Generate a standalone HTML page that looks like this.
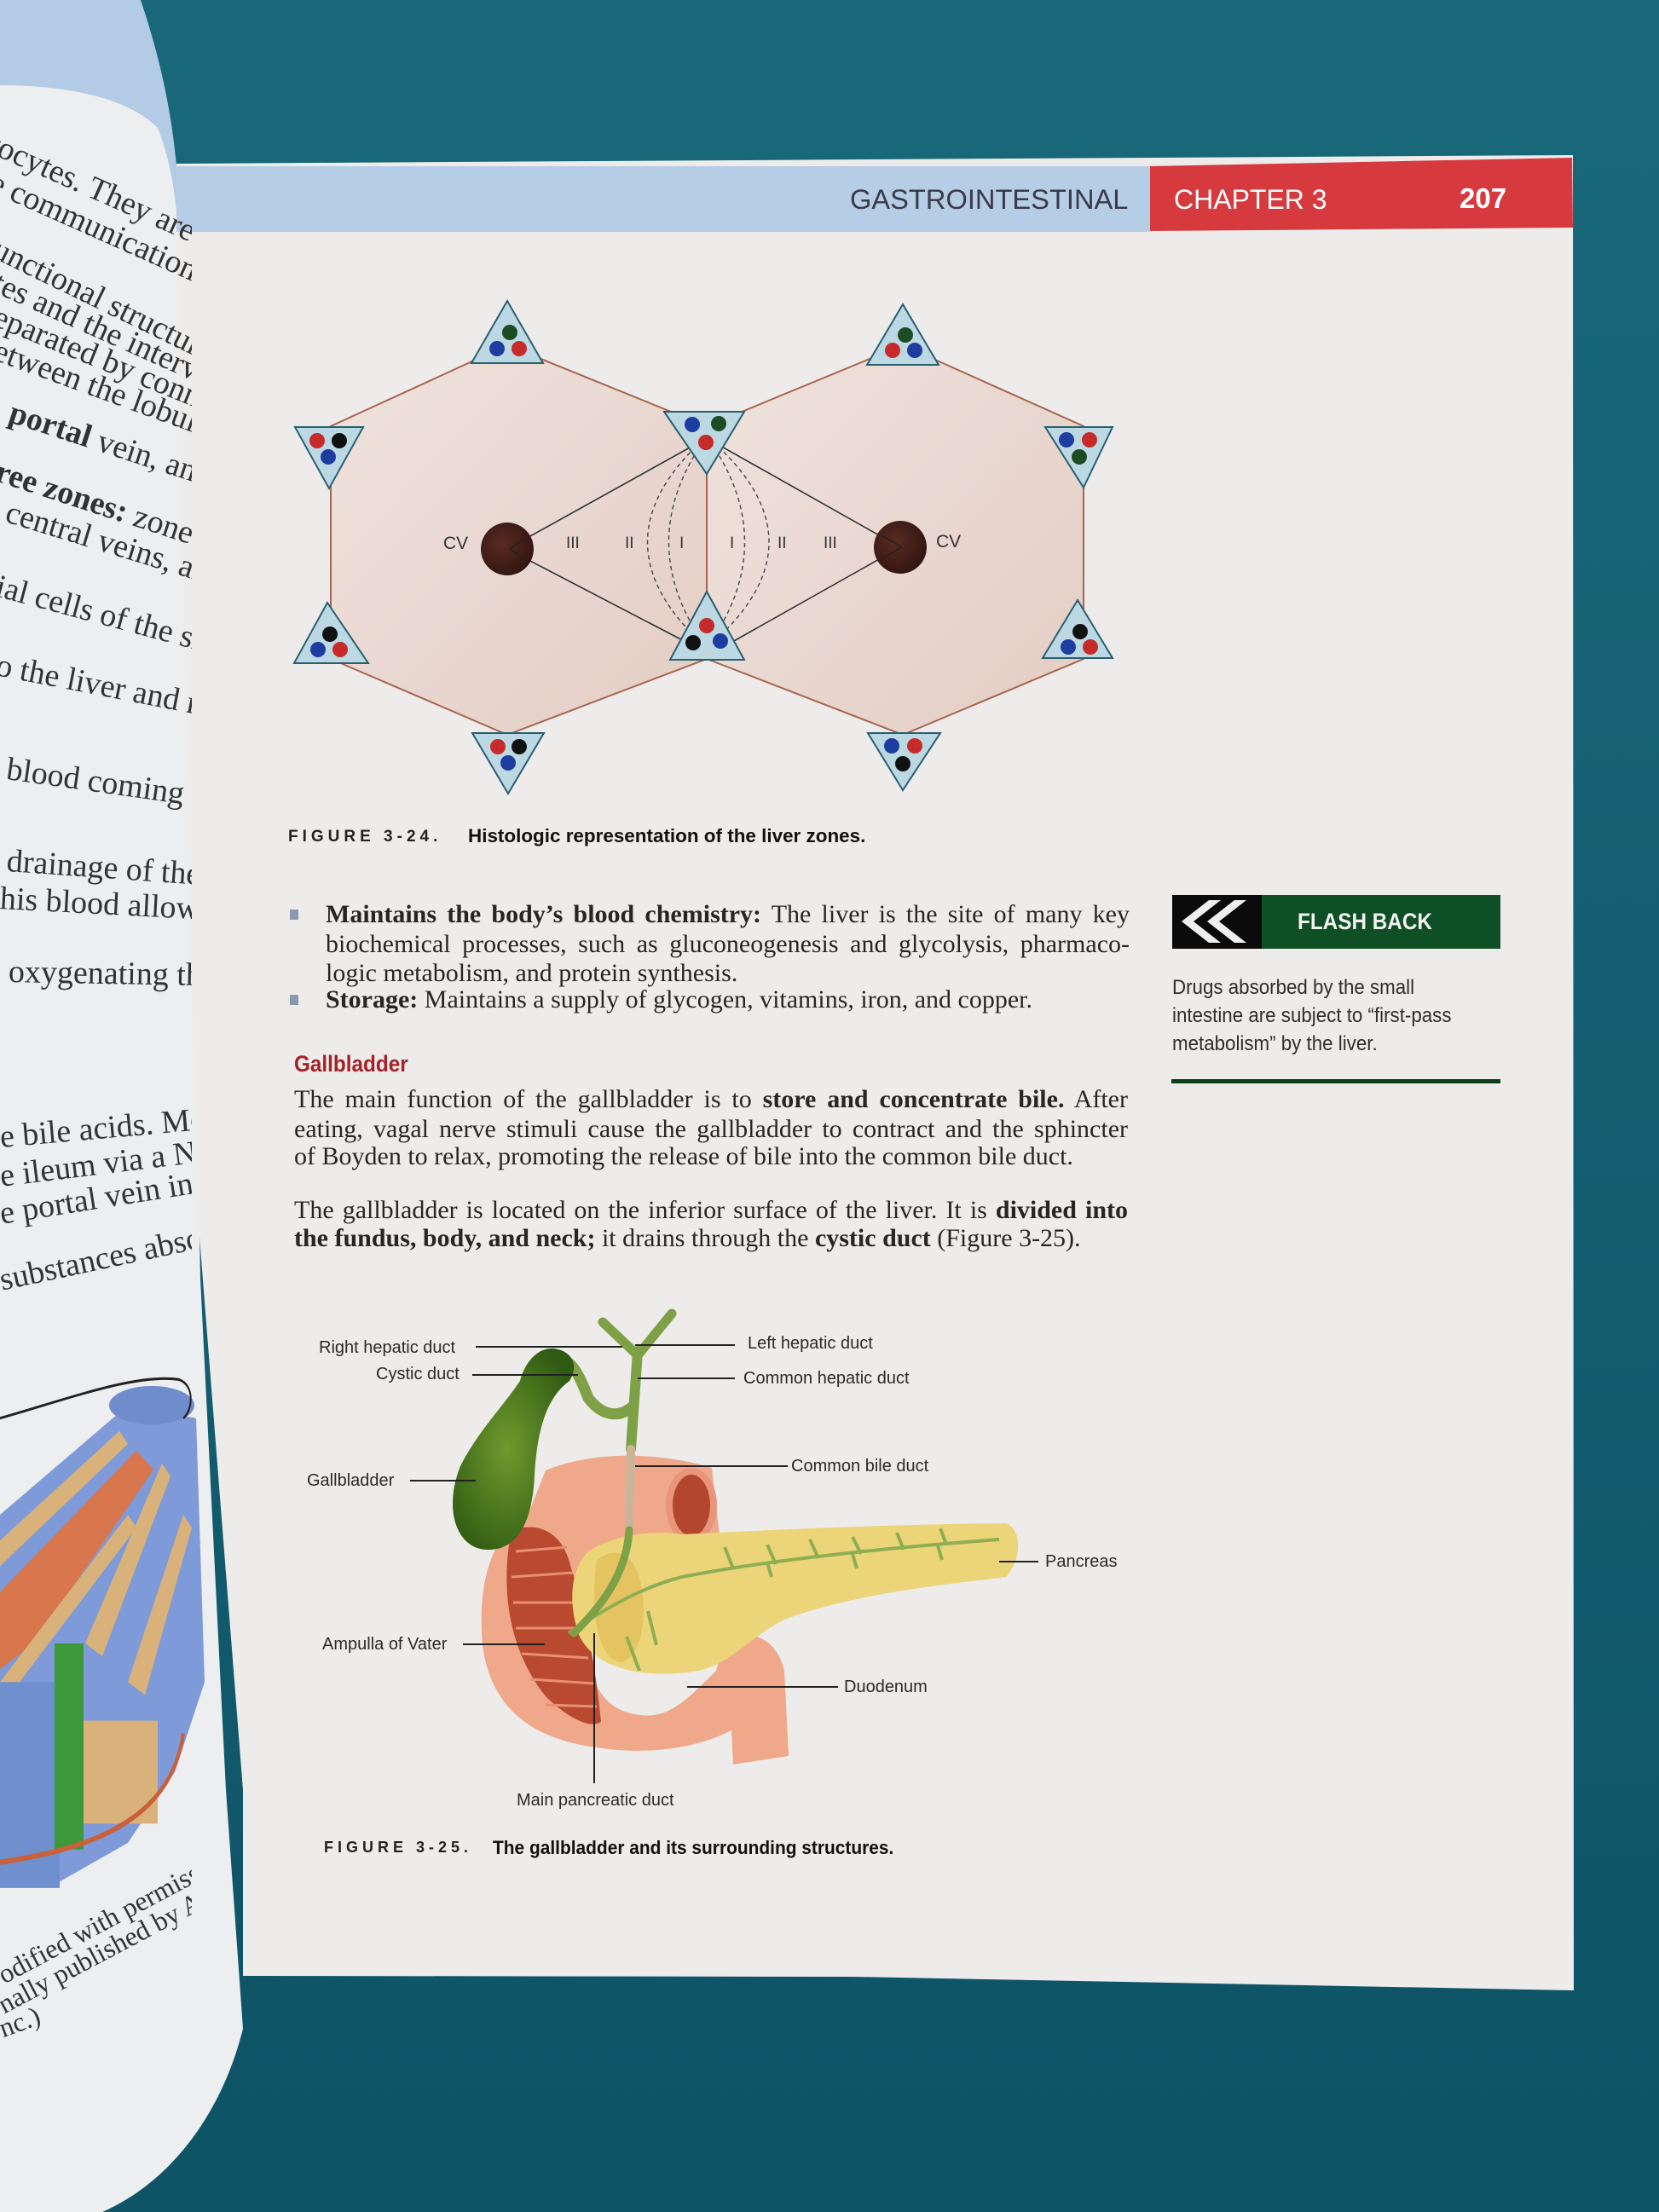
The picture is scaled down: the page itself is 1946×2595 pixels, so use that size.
<!DOCTYPE html>
<html><head><meta charset="utf-8">
<style>
html,body{margin:0;padding:0;}
body{width:1946px;height:2595px;position:relative;overflow:hidden;background:#125a6c;font-family:"Liberation Sans",sans-serif;}
.a{position:absolute;white-space:nowrap;}
.ln{position:absolute;height:34px;line-height:34px;font-size:30px;font-family:"Liberation Serif",serif;color:#262626;text-align:justify;text-align-last:justify;white-space:nowrap;}
.lab{position:absolute;font-size:20px;line-height:22px;color:#2a2a2a;white-space:nowrap;}
.lp{position:absolute;font-family:"Liberation Serif",serif;font-size:38px;color:#333;white-space:nowrap;transform-origin:0 50%;}
</style></head><body>
<svg width="1946" height="2595" style="position:absolute;left:0;top:0">
<defs>
<linearGradient id="bg" x1="0" y1="0" x2="0" y2="1"><stop offset="0" stop-color="#19697a"/><stop offset="1" stop-color="#0e5366"/></linearGradient>
<linearGradient id="hexg" x1="0" y1="0" x2="1" y2="1"><stop offset="0" stop-color="#efe3dd"/><stop offset="1" stop-color="#e3cdc4"/></linearGradient>
<radialGradient id="cvg" cx="0.4" cy="0.4" r="0.7"><stop offset="0" stop-color="#5a2a22"/><stop offset="1" stop-color="#2e1410"/></radialGradient>
<radialGradient id="gb" cx="0.45" cy="0.5" r="0.6"><stop offset="0" stop-color="#6f9a2e"/><stop offset="1" stop-color="#2f5a12"/></radialGradient>
</defs>
<rect width="1946" height="2595" fill="url(#bg)"/>
<!-- left page -->
<path d="M0,0 L165,0 C185,60 200,120 207,195 L207,300 L0,300 Z" fill="#b3cbe5"/>
<path d="M0,100 C80,100 150,115 185,150 C205,200 210,260 212,330 L225,900 L235,1500 L265,2100 L285,2380 C260,2480 200,2560 120,2595 L0,2595 Z" fill="#eceef0"/>
<!-- right page -->
<path d="M207,192 L1845,182 L1846,2335 L1000,2319 L285,2318 L285,2100 L230,1400 L215,700 L207,300 Z" fill="#edecea"/>
<rect x="207" y="195" width="1142" height="77" fill="#b6cde6"/>
<path d="M1349,195 L1844,185 L1845,267 L1349,271 Z" fill="#d63a3f"/>
<!-- left illustration -->
<g transform="translate(0,1626) scale(1,1.51) translate(0,-1600)">
<path d="M0,1700 L150,1615 L230,1625 L240,1830 L205,1900 L150,1955 L70,1985 L0,1985 Z" fill="#7f9ad8"/>
<path d="M0,1760 L160,1650 L180,1665 L40,1800 L0,1820 Z" fill="#d8764e"/>
<path d="M0,1720 L140,1635 L150,1645 L0,1740 Z M0,1830 L150,1700 L160,1710 L0,1850 Z M100,1800 L190,1660 L200,1670 L120,1810 Z M150,1830 L215,1700 L225,1710 L170,1840 Z" fill="#d8b27a"/>
<rect x="95" y="1860" width="90" height="80" fill="#d8b27a"/>
<rect x="0" y="1830" width="70" height="160" fill="#6f8fcf"/>
<rect x="64" y="1800" width="34" height="160" fill="#3c9a3a"/>
<ellipse cx="178" cy="1615" rx="50" ry="15" fill="#6f8ccc"/>
<path d="M0,1970 C100,1960 200,1940 215,1870" stroke="#c9603a" stroke-width="4" fill="none"/>
<path d="M0,1625 C80,1610 160,1590 210,1595 C230,1600 225,1620 215,1625" stroke="#222" stroke-width="2" fill="none"/>
</g>

<!-- hexagons -->
<g stroke="#a8654f" stroke-width="2" fill="url(#hexg)">
<polygon points="595,405 829,500 829,773 595,862 388,773 388,500"/>
<polygon points="1059,405 1271,500 1271,773 1059,862 829,773 829,500"/>
</g>
<line x1="829" y1="500" x2="829" y2="773" stroke="#a8654f" stroke-width="2"/>
<g stroke="#333" stroke-width="1.6" fill="none">
<line x1="595" y1="644" x2="829" y2="514"/>
<line x1="595" y1="644" x2="812" y2="757"/>
<line x1="1056" y1="642" x2="829" y2="514"/>
<line x1="1056" y1="642" x2="852" y2="757"/>
</g>
<g stroke="#444" stroke-width="1.4" fill="none" stroke-dasharray="5,4">
<path d="M829,512 Q690,636 829,760"/>
<path d="M829,512 Q740,636 829,760"/>
<path d="M829,512 Q918,636 829,760"/>
<path d="M829,512 Q975,636 829,760"/>
</g>
<circle cx="595" cy="644" r="31" fill="url(#cvg)"/>
<circle cx="1056" cy="642" r="31" fill="url(#cvg)"/>
<g stroke="#222" stroke-width="1.5" fill="none">
<path d="M618,630 L598,644 L618,658"/><path d="M1034,628 L1058,642 L1034,656"/>
</g>
<g stroke="#2a5f70" stroke-width="2" fill="#bcd8e3">
<polygon points="595,353 553,426 637,426"/>
<polygon points="1059,357 1017,428 1101,428"/>
<polygon points="384,707 345,778 432,778"/>
<polygon points="829,694 786,774 873,774"/>
<polygon points="1264,704 1223,772 1305,772"/>
<polygon points="346,501 426,501 386,573"/>
<polygon points="779,483 873,483 829,556"/>
<polygon points="1226,501 1305,501 1271,572"/>
<polygon points="554,860 638,860 596,931"/>
<polygon points="1018,860 1103,860 1059,927"/>
</g>
<g>
<circle cx="598" cy="390" r="9" fill="#1c4d22"/><circle cx="583" cy="409" r="9" fill="#1d3ea0"/><circle cx="609" cy="409" r="9" fill="#c62a2a"/>
<circle cx="1062" cy="393" r="9" fill="#1c4d22"/><circle cx="1047" cy="411" r="9" fill="#c62a2a"/><circle cx="1073" cy="411" r="9" fill="#1d3ea0"/>
<circle cx="387" cy="744" r="9" fill="#111"/><circle cx="373" cy="762" r="9" fill="#1d3ea0"/><circle cx="399" cy="762" r="9" fill="#c62a2a"/>
<circle cx="829" cy="734" r="9" fill="#c62a2a"/><circle cx="813" cy="754" r="9" fill="#111"/><circle cx="845" cy="752" r="9" fill="#1d3ea0"/>
<circle cx="1267" cy="741" r="9" fill="#111"/><circle cx="1253" cy="759" r="9" fill="#1d3ea0"/><circle cx="1279" cy="759" r="9" fill="#c62a2a"/>
<circle cx="372" cy="517" r="9" fill="#c62a2a"/><circle cx="398" cy="517" r="9" fill="#111"/><circle cx="385" cy="536" r="9" fill="#1d3ea0"/>
<circle cx="812" cy="498" r="9" fill="#1d3ea0"/><circle cx="843" cy="497" r="9" fill="#1c4d22"/><circle cx="828" cy="519" r="9" fill="#c62a2a"/>
<circle cx="1251" cy="516" r="9" fill="#1d3ea0"/><circle cx="1278" cy="516" r="9" fill="#c62a2a"/><circle cx="1266" cy="536" r="9" fill="#1c4d22"/>
<circle cx="584" cy="876" r="9" fill="#c62a2a"/><circle cx="609" cy="876" r="9" fill="#111"/><circle cx="596" cy="895" r="9" fill="#1d3ea0"/>
<circle cx="1046" cy="875" r="9" fill="#1d3ea0"/><circle cx="1073" cy="875" r="9" fill="#c62a2a"/><circle cx="1059" cy="896" r="9" fill="#111"/>
</g>

<!-- flash back box -->
<rect x="1375" y="1050" width="385" height="63" fill="#0e4f26"/>
<rect x="1375" y="1050" width="105" height="63" fill="#0b0b0b"/>
<path d="M1440,1050 L1480,1050 L1435,1081 L1480,1113 L1440,1113 L1395,1081 Z" fill="#0b0b0b"/>
<path d="M1418,1056 L1432,1056 L1400,1081 L1432,1106 L1418,1106 L1386,1081 Z M1448,1056 L1462,1056 L1430,1081 L1462,1106 L1448,1106 L1416,1081 Z" fill="#eee"/>
<rect x="1374" y="1266" width="386" height="5" fill="#0e3d1e"/>

<!-- gallbladder figure -->
<path d="M640,1725 C700,1700 780,1705 835,1722 L845,1810 C810,1820 780,1800 760,1810 C720,1820 700,1850 690,1900 C685,1960 700,2000 740,2010 C780,2020 800,2000 840,1960 L850,1925 C880,1910 910,1920 920,1960 L925,2060 L860,2070 L858,2030 C820,2050 760,2060 700,2050 C620,2040 575,2000 566,1930 C560,1860 575,1800 620,1775 Z" fill="#f0a88a"/>
<path d="M600,1795 C630,1785 660,1795 670,1840 C690,1900 700,1970 705,2020 C690,2030 660,2010 640,1990 C600,1940 585,1870 600,1795 Z" fill="#b94a30"/>
<g stroke="#e89070" stroke-width="3"><path d="M605,1820 L665,1815 M600,1850 L672,1845 M602,1880 L680,1880 M605,1910 L685,1910 M612,1940 L690,1945 M622,1970 L697,1975 M640,2000 L700,2002"/></g>
<ellipse cx="811" cy="1766" rx="30" ry="44" fill="#e8957a"/>
<ellipse cx="811" cy="1766" rx="22" ry="36" fill="#b3462e"/>
<path d="M690,1820 C720,1800 770,1795 800,1800 C900,1795 1050,1788 1180,1787 C1200,1795 1198,1830 1180,1850 C1100,1860 1000,1870 920,1900 C880,1920 860,1950 820,1960 C760,1970 700,1960 680,1920 C665,1880 670,1840 690,1820 Z" fill="#ecd478"/>
<path d="M700,1830 C720,1815 740,1820 750,1850 C760,1890 755,1940 730,1950 C705,1950 690,1900 700,1830 Z" fill="#e3c460"/>
<g stroke="#8fae54" stroke-width="4" fill="none">
<path d="M667,1916 C720,1880 760,1860 800,1850 C900,1830 1050,1815 1172,1806"/>
<path d="M735,1920 L750,1960 M760,1890 L770,1930 M860,1840 L850,1815 M910,1835 L900,1812 M960,1828 L950,1806 M1010,1823 L1000,1803 M1060,1818 L1052,1798 M1110,1812 L1103,1793 M900,1833 L905,1850 M1000,1823 L1005,1840 M1100,1813 L1105,1830"/>
</g>
<g stroke="#7ea046" stroke-linecap="round" fill="none">
<path d="M707,1551 L748,1590 L788,1541" stroke-width="11"/>
<path d="M748,1585 L740,1700" stroke-width="12"/>
<path d="M740,1700 L738,1795" stroke="#c9b49a" stroke-width="10"/>
<path d="M738,1795 C735,1850 700,1890 673,1916" stroke-width="9"/>
<path d="M650,1595 C670,1590 680,1615 690,1640 C705,1660 725,1665 742,1650" stroke-width="13"/>
</g>
<path d="M650,1582 C630,1580 615,1600 610,1620 C590,1650 560,1680 540,1720 C520,1770 535,1816 570,1818 C610,1820 625,1780 627,1730 C630,1680 640,1640 668,1620 C680,1600 670,1585 650,1582 Z" fill="url(#gb)"/>
<g stroke="#222" stroke-width="2">
<line x1="558" y1="1580" x2="730" y2="1580"/>
<line x1="745" y1="1578" x2="862" y2="1578"/>
<line x1="554" y1="1613" x2="678" y2="1613"/>
<line x1="748" y1="1617" x2="862" y2="1617"/>
<line x1="745" y1="1720" x2="924" y2="1720"/>
<line x1="481" y1="1737" x2="558" y2="1737"/>
<line x1="1172" y1="1832" x2="1218" y2="1832"/>
<line x1="543" y1="1929" x2="639" y2="1929"/>
<line x1="806" y1="1979" x2="983" y2="1979"/>
<line x1="697" y1="1916" x2="697" y2="2092"/>
</g>
</svg>

<!-- header -->
<div class="a" style="left:997px;top:217px;font-size:32px;line-height:34px;color:#3a3a48;transform:scaleX(1.02);transform-origin:0 0;">GASTROINTESTINAL</div>
<div class="a" style="left:1377px;top:217px;font-size:32px;line-height:34px;color:#fff;transform:scaleX(1.0);transform-origin:0 0;">CHAPTER 3</div>
<div class="a" style="left:1712px;top:215px;font-size:33px;line-height:36px;color:#fff;font-weight:bold;">207</div>

<div class="a" style="left:520px;top:626px;font-size:21px;color:#333;">CV</div>
<div class="a" style="left:1098px;top:624px;font-size:21px;color:#333;">CV</div>
<div class="a" style="left:664px;top:627px;font-size:19px;color:#333;">III</div>
<div class="a" style="left:733px;top:627px;font-size:19px;color:#333;">II</div>
<div class="a" style="left:797px;top:627px;font-size:19px;color:#333;">I</div>
<div class="a" style="left:856px;top:627px;font-size:19px;color:#333;">I</div>
<div class="a" style="left:912px;top:627px;font-size:19px;color:#333;">II</div>
<div class="a" style="left:966px;top:627px;font-size:19px;color:#333;">III</div>

<div class="a" style="left:338px;top:971px;font-size:19px;font-weight:bold;letter-spacing:5px;color:#222;">FIGURE 3-24.</div>
<div class="a" style="left:549px;top:968px;font-size:22px;font-weight:bold;color:#111;transform:scaleX(1.02);transform-origin:0 0;">Histologic representation of the liver zones.</div>

<!-- body text -->
<div class="a" style="left:340px;top:1067px;width:10px;height:12px;background:#8a99b0"></div>
<div class="a" style="left:340px;top:1167px;width:10px;height:12px;background:#8a99b0"></div>
<div class="ln" style="left:382px;top:1056px;width:943px;"><b>Maintains the body’s blood chemistry:</b> The liver is the site of many key</div>
<div class="ln" style="left:382px;top:1091px;width:943px;">biochemical processes, such as gluconeogenesis and glycolysis, pharmaco-</div>
<div class="ln" style="left:382px;top:1125px;">logic metabolism, and protein synthesis.</div>
<div class="ln" style="left:382px;top:1156px;"><b>Storage:</b> Maintains a supply of glycogen, vitamins, iron, and copper.</div>
<div class="a" style="left:345px;top:1232px;font-size:27px;line-height:32px;font-weight:bold;color:#a5222a;transform:scaleX(0.9);transform-origin:0 0;">Gallbladder</div>
<div class="ln" style="left:345px;top:1273px;width:978px;">The main function of the gallbladder is to <b>store and concentrate bile.</b> After</div>
<div class="ln" style="left:345px;top:1308px;width:978px;">eating, vagal nerve stimuli cause the gallbladder to contract and the sphincter</div>
<div class="ln" style="left:345px;top:1340px;">of Boyden to relax, promoting the release of bile into the common bile duct.</div>
<div class="ln" style="left:345px;top:1403px;width:978px;">The gallbladder is located on the inferior surface of the liver. It is <b>divided into</b></div>
<div class="ln" style="left:345px;top:1436px;"><b>the fundus, body, and neck;</b> it drains through the <b>cystic duct</b> (Figure 3-25).</div>

<!-- sidebar -->
<div class="a" style="left:1522px;top:1064px;font-size:27px;line-height:34px;font-weight:bold;color:#f2f2f2;transform:scaleX(0.9);transform-origin:0 0;">FLASH BACK</div>
<div class="a" style="left:1375px;top:1142px;font-size:24px;line-height:33px;color:#2e2e2e;transform:scaleX(0.93);transform-origin:0 0;">Drugs absorbed by the small<br>intestine are subject to “first-pass<br>metabolism” by the liver.</div>

<!-- figure 3-25 labels -->
<div class="lab" style="left:374px;top:1570px;">Right hepatic duct</div>
<div class="lab" style="left:441px;top:1601px;">Cystic duct</div>
<div class="lab" style="left:877px;top:1565px;">Left hepatic duct</div>
<div class="lab" style="left:872px;top:1606px;">Common hepatic duct</div>
<div class="lab" style="left:928px;top:1709px;">Common bile duct</div>
<div class="lab" style="left:360px;top:1726px;">Gallbladder</div>
<div class="lab" style="left:1226px;top:1821px;">Pancreas</div>
<div class="lab" style="left:378px;top:1918px;">Ampulla of Vater</div>
<div class="lab" style="left:990px;top:1968px;">Duodenum</div>
<div class="lab" style="left:606px;top:2101px;">Main pancreatic duct</div>
<div class="a" style="left:380px;top:2157px;font-size:18px;font-weight:bold;letter-spacing:5px;color:#222;">FIGURE 3-25.</div>
<div class="a" style="left:578px;top:2155px;font-size:22px;font-weight:bold;color:#111;transform:scaleX(0.95);transform-origin:0 0;">The gallbladder and its surrounding structures.</div>

<!-- left page text -->
<div style="position:absolute;left:0;top:0;width:225px;height:2595px;overflow:hidden;">
<div class="lp" style="left:-10px;top:145px;transform:rotate(24deg);">tocytes. They are c</div>
<div class="lp" style="left:-10px;top:190px;transform:rotate(24deg);">e communication w</div>
<div class="lp" style="left:-6px;top:268px;transform:rotate(26deg);">unctional structure</div>
<div class="lp" style="left:-6px;top:308px;transform:rotate(24deg);">tes and the interven</div>
<div class="lp" style="left:-6px;top:348px;transform:rotate(22deg);">eparated by connect</div>
<div class="lp" style="left:-6px;top:388px;transform:rotate(20deg);">etween the lobules a</div>
<div class="lp" style="left:-6px;top:455px;transform:rotate(18deg);">, <b>portal</b> vein, and b</div>
<div class="lp" style="left:-4px;top:530px;transform:rotate(18deg);"><b>ree zones:</b> zone I en</div>
<div class="lp" style="left:8px;top:578px;transform:rotate(17deg);">central veins, and zo</div>
<div class="lp" style="left:-4px;top:665px;transform:rotate(15deg);">ial cells of the sinus</div>
<div class="lp" style="left:-4px;top:758px;transform:rotate(11deg);">o the liver and reside</div>
<div class="lp" style="left:8px;top:880px;transform:rotate(8deg);">blood coming from</div>
<div class="lp" style="left:8px;top:988px;transform:rotate(4deg);">drainage of the GI</div>
<div class="lp" style="left:0px;top:1032px;transform:rotate(3deg);">his blood allows the</div>
<div class="lp" style="left:10px;top:1118px;transform:rotate(1deg);">oxygenating the hep</div>
<div class="lp" style="left:0px;top:1312px;transform:rotate(-5deg);">e bile acids. Most of</div>
<div class="lp" style="left:0px;top:1358px;transform:rotate(-7deg);">e ileum via a Na+-dep</div>
<div class="lp" style="left:0px;top:1402px;transform:rotate(-9deg);">e portal vein into the</div>
<div class="lp" style="left:0px;top:1480px;transform:rotate(-12deg);">substances absorbed</div>
<div class="lp" style="left:0px;top:2300px;transform:rotate(-28deg);font-size:32px;">odified with permission from</div>
<div class="lp" style="left:0px;top:2335px;transform:rotate(-28deg);font-size:32px;">nally published by Appleton</div>
<div class="lp" style="left:0px;top:2362px;transform:rotate(-20deg);font-size:32px;">nc.)</div>
</div>
</body></html>
